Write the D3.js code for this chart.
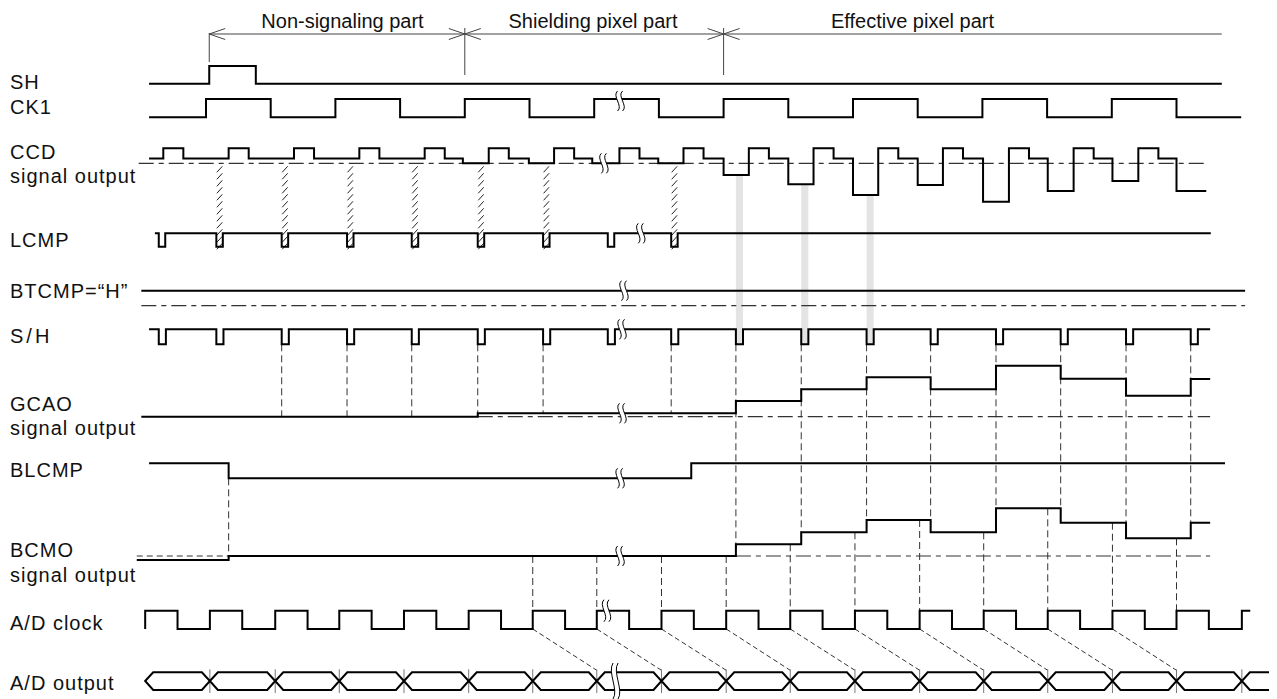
<!DOCTYPE html>
<html>
<head>
<meta charset="utf-8">
<script src="https://cdn.jsdelivr.net/npm/d3@7"></script>
<style>
  body { margin: 0; background: #fff; }
  text { font-family: "Liberation Sans", Arial, sans-serif; font-size: 20px; fill: #111; }
</style>
</head>
<body>
<script>
// time axis is in pixel periods (1 unit = one CCD pixel)
var sectionNames = ['Non-signaling part', 'Shielding pixel part', 'Effective pixel part'];
var sectionBounds = [0.05, 4.0, 8.0, 15.7];

var rowLabels = ['SH', 'CK1', 'CCD', 'signal output', 'LCMP', 'BTCMP=\u201cH\u201d', 'S/H',
  'GCAO', 'signal output', 'BLCMP', 'BCMO', 'signal output', 'A/D clock', 'A/D output'];

var shPulse = [0.05, 0.77];
var ck1Rise = [0, 2, 4, 6, 8, 10, 12, 14];

// CCD output: reset pulses and the signal dips below the black level
var ccdRise = [-0.66, 0.35, 1.36, 2.37, 3.38, 4.37, 5.38, 6.39, 7.38, 8.39, 9.39, 10.39, 11.39, 12.41, 13.41, 14.41];
var ccdDipTime = [3.97, 4.99, 5.97, 6.99, 8.0, 9.0, 10.0, 11.0, 12.01, 13.01, 14.01, 15.0];
var ccdDipDepth = [0, 0, 0, 0, 11.7, 21, 31.7, 21.7, 38.4, 27.7, 17.7, 27.7];

var lcmpPulse = [-0.73, 0.16, 1.17, 2.18, 3.18, 4.2, 5.21, 6.21, 7.19];
var hatchedPixels = [1, 2, 3, 4, 5, 6, 8];   // indexes into lcmpPulse
var shPulses = [-0.73, 0.16, 1.17, 2.18, 3.18, 4.2, 5.21, 6.21, 7.19,
  8.19, 9.2, 10.21, 11.2, 12.21, 13.21, 14.22, 15.22];
var grayPixels = [9, 10, 11];               // indexes into shPulses
var shDashedToGcao = [2, 3, 4, 5, 6, 8];

var gcaoBlack = 3.4;
var gcaoLevels = [15.7, 27.4, 39.4, 27.4, 51, 38, 21, 37.7];
var bcmoUnclamped = -4;
var bcmoLevels = [11.7, 23.7, 36, 23.7, 47.7, 33.3, 17.7, 33.3];
var blcmpFall = 0.35, blcmpRise = 7.5;

var adRise = [-0.94, 0.06, 1.07, 2.06, 3.06, 4.06, 5.05, 6.04, 7.04, 8.04, 9.03,
  10.03, 11.03, 12.02, 13.01, 14.01, 15.0, 16.01];

var w = 1277, h = 699;
var x = d3.scaleLinear().domain([0, 16]).range([206, 1241.2]);

var svg = d3.select('body').append('svg')
  .attr('width', w)
  .attr('height', h);

function logicY(low, high) {
  return d3.scaleLinear().domain([0, 1]).range([low, high]);
}
var ySH = logicY(83.7, 66), yCK1 = logicY(117.3, 99), yLCMP = logicY(246.7, 233.3);
var ySAH = logicY(344.3, 329.3), yBL = logicY(478.3, 463.3), yAD = logicY(629, 610.7);
var yCCD = d3.scaleLinear().domain([0, 15]).range([163.3, 148.3]);
var yGCAO = d3.scaleLinear().domain([0, 50]).range([416.7, 366.7]);
var yBCMO = d3.scaleLinear().domain([0, 50]).range([556, 506]);
var yBT = 290.7;

var stepLine = function (ys) {
  return d3.line().curve(d3.curveStepAfter)
    .x(function (d) { return x(d[0]); })
    .y(function (d) { return ys(d[1]); });
};

function pulses(start, startLevel, list, width, end) {
  var pts = [[start, startLevel]];
  list.forEach(function (p) {
    pts.push([p, 1 - startLevel]);
    pts.push([p + width, startLevel]);
  });
  pts.push([end, startLevel]);
  return pts;
}

function levelAt(series, t) {
  var v = series[0][1];
  series.forEach(function (d) { if (d[0] <= t) v = d[1]; });
  return v;
}

// ---------- series ----------
var shData = pulses(-0.88, 0, [shPulse[0]], shPulse[1] - shPulse[0], 15.7);
var ck1Data = pulses(-0.88, 0, ck1Rise, 1, 16);
var lcmpData = pulses(-0.79, 1, lcmpPulse, 0.1, 15.53);
var sahData = pulses(-0.88, 1, shPulses, 0.11, 15.52);
var blData = [[-0.88, 1], [blcmpFall, 0], [blcmpRise, 1], [15.75, 1]];
var adData = pulses(-0.94, 0, adRise.slice(0, -1), 0.5, 16.01);
adData.push([16.01, 1], [16.14, 1]);

var ccdData = [[-0.88, 4.8]];
ccdRise.forEach(function (r) { ccdData.push([r, 15], [r + 0.31, 4.8]); });
ccdDipTime.forEach(function (t, i) { ccdData.push([t, -ccdDipDepth[i]]); });
ccdData.sort(function (a, b) { return a[0] - b[0]; });
ccdData.push([15.46, ccdData[ccdData.length - 1][1]]);

var gcaoData = [[-1.0, 0], [4.2, gcaoBlack]];
gcaoLevels.forEach(function (v, i) { gcaoData.push([shPulses[9 + i], v]); });
gcaoData.push([15.52, gcaoLevels[gcaoLevels.length - 1]]);

var bcmoData = [[-1.07, bcmoUnclamped], [blcmpFall, 0]];
bcmoLevels.forEach(function (v, i) { bcmoData.push([shPulses[9 + i], v]); });
bcmoData.push([15.52, bcmoLevels[bcmoLevels.length - 1]]);

// ---------- gray sampling bars ----------
grayPixels.forEach(function (i) {
  var p = shPulses[i];
  svg.append('rect')
    .attr('x', x(p)).attr('width', x(p + 0.11) - x(p))
    .attr('y', yCCD(levelAt(ccdData, p))).attr('height', ySAH(0) - yCCD(levelAt(ccdData, p)))
    .attr('fill', '#e4e4e4');
});

// ---------- hatched strips CCD -> LCMP ----------
hatchedPixels.forEach(function (i) {
  var x0 = x(lcmpPulse[i]), x1 = x(lcmpPulse[i] + 0.1);
  var g = svg.append('g');
  d3.range(yCCD(0) + 3, yLCMP(0) - 2, 7).forEach(function (yy) {
    g.append('line')
      .attr('x1', x0 + 0.5).attr('y1', yy + 6)
      .attr('x2', x1 - 0.5).attr('y2', yy)
      .attr('stroke', '#222').attr('stroke-width', 1);
  });
});

// ---------- reference (dash-dot) lines ----------
var dashDot = '15,5,5,5';
function hline(x1, x2, y, dash, width, color) {
  svg.append('line')
    .attr('x1', x1).attr('x2', x2).attr('y1', y).attr('y2', y)
    .attr('stroke', color || '#333').attr('stroke-width', width || 1.2)
    .attr('stroke-dasharray', dash);
}
function vline(xx, y1, y2, dash) {
  svg.append('line')
    .attr('x1', xx).attr('x2', xx).attr('y1', y1).attr('y2', y2)
    .attr('stroke', '#333').attr('stroke-width', 1)
    .attr('stroke-dasharray', dash);
}
hline(x(-1.04), x(15.46), yCCD(0), dashDot);
hline(x(-1.0), x(16.06), yBT + 15, dashDot);
hline(x(4.2), x(15.52), yGCAO(0), dashDot);
hline(x(-1.07), x(blcmpFall), yBCMO(0), '6,4');
hline(x(shPulses[9]), x(15.52), yBCMO(0), dashDot);

// ---------- dashed verticals ----------
var vdash = '7,4';
shDashedToGcao.forEach(function (i) {
  var p = shPulses[i];
  var lv = Math.min(levelAt(gcaoData, p - 0.01), levelAt(gcaoData, p + 0.01));
  vline(x(p), ySAH(0), yGCAO(lv), vdash);
});
shPulses.slice(9).forEach(function (p) {
  var lv = Math.min(levelAt(bcmoData, p - 0.01), levelAt(bcmoData, p + 0.01));
  vline(x(p), ySAH(0), yBCMO(lv), vdash);
});
vline(x(blcmpFall), yBL(0), yBCMO(bcmoUnclamped), vdash);
adRise.filter(function (t) { return t > 5 && t < 15.5; }).forEach(function (t) {
  vline(x(t), yBCMO(levelAt(bcmoData, t)), yAD(1), vdash);
});

// A/D clock -> A/D output diagonals
var adTop = 672.3, adBot = 690, adMid = 681;
adRise.forEach(function (t, i) {
  if (t > 5 && t < 14.5) {
    svg.append('line')
      .attr('x1', x(t)).attr('y1', yAD(0))
      .attr('x2', x(adRise[i + 1])).attr('y2', adTop - 2)
      .attr('stroke', '#333').attr('stroke-width', 1)
      .attr('stroke-dasharray', '5,3');
  }
});
adRise.slice(1).forEach(function (t) {
  svg.append('line')
    .attr('x1', x(t)).attr('x2', x(t)).attr('y1', adTop - 3).attr('y2', adBot + 3)
    .attr('stroke', '#777').attr('stroke-width', 1);
});

// ---------- signal traces ----------
function trace(data, ys) {
  svg.append('path')
    .datum(data)
    .attr('d', stepLine(ys))
    .attr('fill', 'none')
    .attr('stroke', '#000')
    .attr('stroke-width', 2);
}
trace(shData, ySH);
trace(ck1Data, yCK1);
trace(ccdData, yCCD);
trace(lcmpData, yLCMP);
trace([[-1.0, 1], [16.06, 1]], function () { return yBT; });
trace(sahData, ySAH);
trace(gcaoData, yGCAO);
trace(blData, yBL);
trace(bcmoData, yBCMO);
trace(adData, yAD);

// A/D output data eyes
var cross = [-0.94].concat(adRise.slice(1));
var slant = 8;
for (var i = 0; i < cross.length - 1; i++) {
  var a = x(cross[i]), b = x(cross[i + 1]);
  svg.append('path')
    .attr('d', 'M' + a + ',' + adMid + 'L' + (a + slant) + ',' + adTop + 'L' + (b - slant) + ',' + adTop +
      'L' + b + ',' + adMid + 'L' + (b - slant) + ',' + adBot + 'L' + (a + slant) + ',' + adBot + 'Z')
    .attr('fill', 'none').attr('stroke', '#000').attr('stroke-width', 2);
}
var last = x(cross[cross.length - 1]), adEnd = x(16.43);
svg.append('path')
  .attr('d', 'M' + adEnd + ',' + adTop + 'L' + (last + slant) + ',' + adTop + 'L' + last + ',' + adMid +
    'L' + (last + slant) + ',' + adBot + 'L' + adEnd + ',' + adBot)
  .attr('fill', 'none').attr('stroke', '#000').attr('stroke-width', 2);

// ---------- break marks ----------
var breaks = [
  [6.4, yCK1(1) + 2, 10], [6.15, yCCD(0), 10], [6.72, yLCMP(1), 10], [6.46, yBT, 10],
  [6.43, ySAH(1), 10], [6.43, yGCAO(gcaoBlack), 10], [6.4, yBL(0), 10], [6.4, yBCMO(0), 10],
  [6.19, yAD(1), 11], [6.33, adMid, 18]
];
breaks.forEach(function (b) {
  var cx = x(b[0]), cy = b[1], hh = b[2], gap = 5;
  function s(dx) {
    return 'M' + (cx + dx) + ',' + (cy - hh) +
      'C' + (cx + dx - 6) + ',' + (cy - hh / 2) + ' ' + (cx + dx + 6) + ',' + (cy + hh / 2) + ' ' + (cx + dx) + ',' + (cy + hh);
  }
  svg.append('path')
    .attr('d', s(-gap / 2) + 'L' + (cx + gap / 2) + ',' + (cy + hh) +
      'C' + (cx + gap / 2 + 6) + ',' + (cy + hh / 2) + ' ' + (cx + gap / 2 - 6) + ',' + (cy - hh / 2) + ' ' + (cx + gap / 2) + ',' + (cy - hh) + 'Z')
    .attr('fill', '#fff');
  [-gap / 2, gap / 2].forEach(function (dx) {
    svg.append('path').attr('d', s(dx))
      .attr('fill', 'none').attr('stroke', '#000').attr('stroke-width', 1);
  });
});

// ---------- section arrows ----------
var arrowY = 34;
var titleX = [342.5, 593, 912.5];
svg.append('line')
  .attr('x1', x(sectionBounds[0])).attr('x2', x(sectionBounds[3]))
  .attr('y1', arrowY).attr('y2', arrowY)
  .attr('stroke', '#444').attr('stroke-width', 1);
sectionBounds.slice(0, 3).forEach(function (b, i) {
  var bx = x(b);
  svg.append('line').attr('x1', bx).attr('x2', bx)
    .attr('y1', i === 0 ? arrowY - 1 : arrowY - 6).attr('y2', i === 0 ? 62 : 75)
    .attr('stroke', '#444').attr('stroke-width', 1);
  var sides = i === 0 ? [1] : [-1, 1];
  sides.forEach(function (sd) {
    svg.append('path')
      .attr('d', 'M' + (bx + sd * 16) + ',' + (arrowY - 5.5) + 'L' + bx + ',' + arrowY + 'L' + (bx + sd * 16) + ',' + (arrowY + 5.5))
      .attr('fill', 'none').attr('stroke', '#444').attr('stroke-width', 1);
  });
  svg.append('text')
    .attr('x', titleX[i])
    .attr('y', 27.5)
    .attr('text-anchor', 'middle')
    .text(sectionNames[i]);
});

// ---------- row labels ----------
var labelBaselines = [89, 114, 158.5, 182.5, 247, 298, 343, 410.5, 434.5, 477, 557, 581.5, 630, 690];
rowLabels.forEach(function (t, i) {
  svg.append('text')
    .attr('x', 10)
    .attr('y', labelBaselines[i])
    .style('letter-spacing', t === 'S/H' ? '3px' : '1px')
    .text(t);
});
</script>
</body>
</html>
